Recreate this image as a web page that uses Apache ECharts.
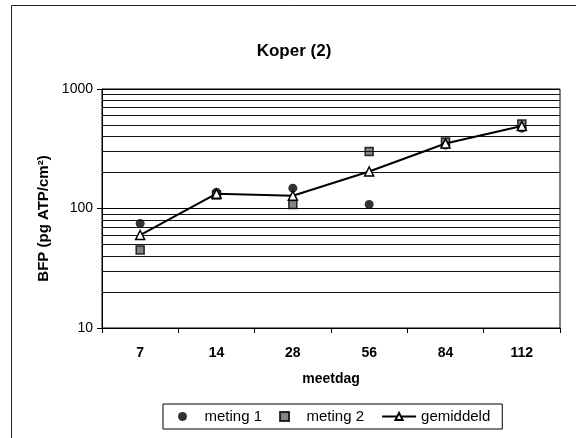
<!DOCTYPE html>
<html><head><meta charset="utf-8">
<script src="https://cdn.jsdelivr.net/npm/echarts@6/dist/echarts.min.js"></script>
<style>html,body{margin:0;padding:0;background:#fff}#c{width:576px;height:438px}</style>
</head><body><div id="c"></div>
<script>
const categories = ['7', '14', '28', '56', '84', '112'];
const meting1 = [75, 137, 148, 108, 340, 470];
const meting2 = [45, 130, 108, 300, 360, 510];
const gemiddeld = [60, 133, 128, 204, 350, 490];
const gridValues = [20, 30, 40, 50, 60, 70, 80, 90, 200, 300, 400, 500, 600, 700, 800, 900];

const FONT = '"Liberation Sans", Arial, sans-serif';
const SQUARE = 'path://M0,0L10,0L10,10L0,10Z';
const chart = echarts.init(document.getElementById('c'), null, {renderer: 'canvas'});
chart.setOption({
  animation: false,
  backgroundColor: '#fff',
  graphic: [{
    type: 'rect', left: 9, top: 3, shape: {width: 620, height: 500},
    style: {fill: 'none', stroke: '#222', lineWidth: 1}, silent: true, z: -1
  }],
  title: {
    text: 'Koper (2)', left: 289, top: 38, textAlign: 'center',
    textStyle: {fontFamily: FONT, fontSize: 17, fontWeight: 'bold', color: '#000'}
  },
  grid: {left: 102, right: 16, top: 89, bottom: 110, show: true, borderColor: '#000', borderWidth: 1, backgroundColor: 'transparent'},
  legend: {
    left: 163, top: 404, itemGap: 17, itemWidth: 34, itemHeight: 9,
    borderColor: '#000', borderWidth: 1, padding: [5, 12, 5, 15],
    textStyle: {fontFamily: FONT, fontSize: 15, color: '#000'},
    data: [
      {name: 'meting 1', icon: 'circle'},
      {name: 'meting 2', icon: SQUARE},
      {name: 'gemiddeld'}
    ]
  },
  xAxis: {
    type: 'category', data: categories, boundaryGap: true,
    name: 'meetdag', nameLocation: 'middle', nameGap: 44,
    nameTextStyle: {fontFamily: FONT, fontSize: 14, fontWeight: 'bold', color: '#000'},
    axisLine: {lineStyle: {color: '#000', width: 1}},
    axisTick: {show: true, length: 5, lineStyle: {color: '#000'}},
    axisLabel: {fontFamily: FONT, fontSize: 14, fontWeight: 'bold', color: '#000', margin: 18},
    splitLine: {show: false}
  },
  yAxis: {
    type: 'log', logBase: 10, min: 10, max: 1000,
    name: 'BFP (pg ATP/cm²)', nameLocation: 'middle', nameGap: 51,
    nameTextStyle: {fontFamily: FONT, fontSize: 15, fontWeight: 'bold', color: '#000', padding: [0, 20, 0, 0]},
    axisLine: {show: true, lineStyle: {color: '#000', width: 1}},
    axisTick: {show: true, length: 5, lineStyle: {color: '#000'}},
    axisLabel: {fontFamily: FONT, fontSize: 14, color: '#000', margin: 9, formatter: v => String(Math.round(v))},
    splitLine: {show: true, lineStyle: {color: '#000', width: 1}}
  },
  series: [
    {
      name: 'grid', type: 'line', data: [], silent: true,
      markLine: {
        silent: true, symbol: 'none', label: {show: false},
        lineStyle: {color: '#111', width: 1, type: 'solid'},
        data: gridValues.map(v => ({yAxis: v}))
      }
    },
    {
      name: 'meting 1', type: 'scatter', data: meting1, symbol: 'circle', symbolSize: 9,
      itemStyle: {color: '#000'}, z: 4
    },
    {
      name: 'meting 2', type: 'scatter', data: meting2, symbol: 'rect', symbolSize: 8,
      itemStyle: {color: '#666', borderColor: '#000', borderWidth: 1.5}, z: 4
    },
    {
      name: 'gemiddeld', type: 'line', data: gemiddeld, symbol: 'triangle', symbolSize: 9,
      showAllSymbol: true,
      lineStyle: {color: '#000', width: 2},
      itemStyle: {color: '#fff', borderColor: '#000', borderWidth: 1.5}, z: 5
    }
  ]
});
</script></body></html>
